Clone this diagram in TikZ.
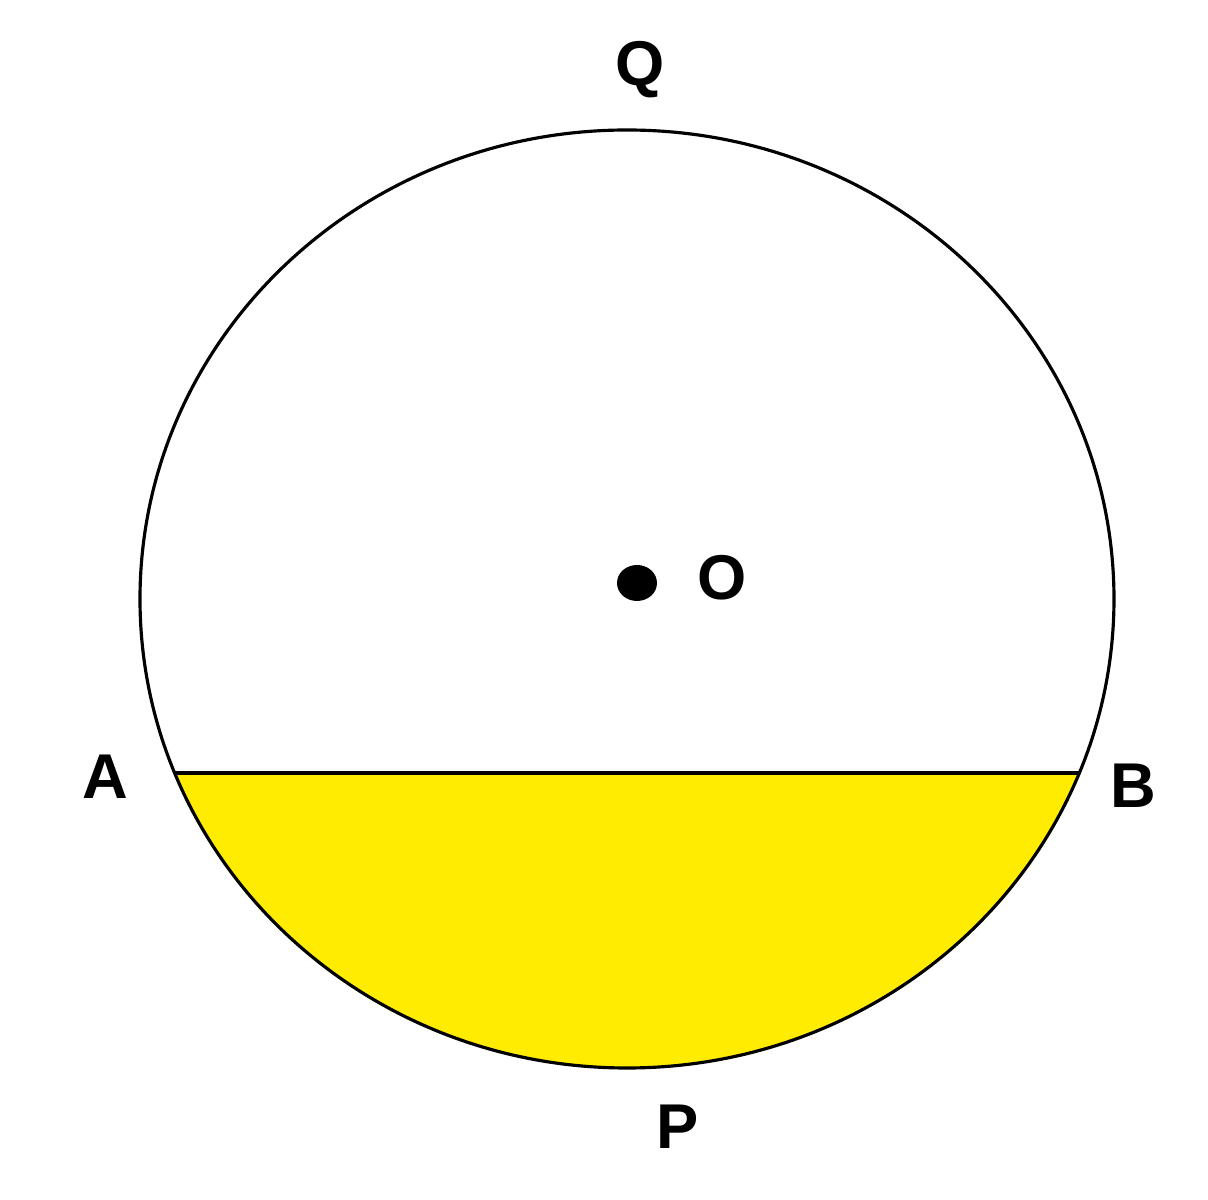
\documentclass[tikz,border=0pt]{standalone}
\usepackage{fontspec}
\setmainfont{Liberation Sans}
\definecolor{segyellow}{RGB}{255,236,0}
\tikzset{
    lbl/.style={font=\fontsize{18}{20}\selectfont\bfseries,inner sep=0pt},
    rim/.style={line width=0.9pt}
}
\begin{document}
\begin{tikzpicture}
    \useasboundingbox (0,0) rectangle (12.08,12);
    \coordinate (c) at (6.27,6.01);
    \coordinate (a) at (1.75,4.27);
    \coordinate (b) at (10.79,4.27);
    \fill[segyellow] (a) arc[start angle=201.78,end angle=338.22,x radius=4.87,y radius=4.69] -- cycle;
    \draw[rim] (c) ellipse[x radius=4.87,y radius=4.69];
    \draw[rim] (a) -- (b);
    \fill (6.37,6.17) ellipse[x radius=0.2,y radius=0.18];
    \node[lbl] (o) at (7.22,6.22) {O};
    \node[lbl] (q) at (6.40,11.30) {Q};
    \node[lbl] (pa) at (1.05,4.23) {A};
    \node[lbl] (pb) at (11.33,4.14) {B};
    \node[lbl] (p) at (6.78,0.73) {P};
\end{tikzpicture}
\end{document}
